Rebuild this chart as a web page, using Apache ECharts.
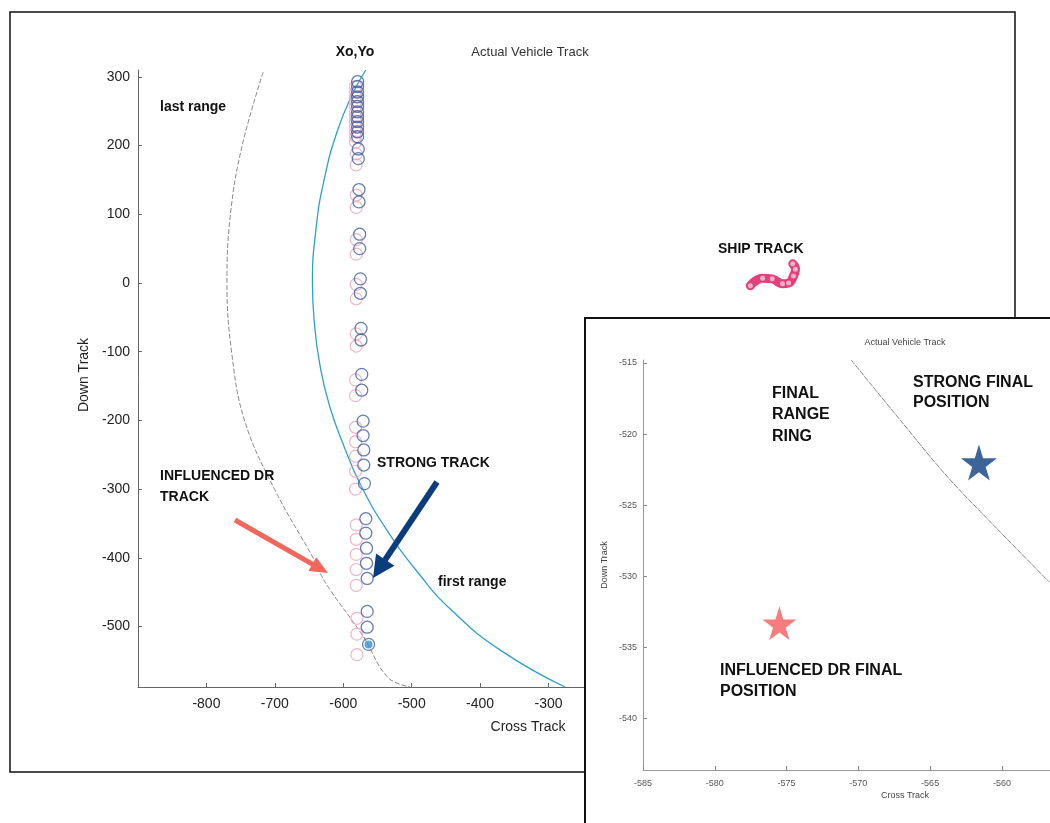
<!DOCTYPE html>
<html><head><meta charset="utf-8">
<script src="https://cdn.jsdelivr.net/npm/echarts@6/dist/echarts.min.js"></script>
<style>html,body{margin:0;padding:0;background:#fff}#c{width:1050px;height:823px}</style>
</head><body><div id="c"></div>
<script>
// ---------- DATA ----------
// Main plot
var strongTrack = [ // blue circles [cross, down]
  [-579,293],[-579,286],[-579,278],[-579,271],[-579,264],[-579,257],[-579,249],[-579,242],[-579,235],[-579,227],[-579,220],[-579,213],
  [-578,195],[-578,181],[-577,136],[-577,118],[-576,71],[-576,50],[-575,6],[-575,-15],[-574,-66],[-574,-83],[-573,-133],[-573,-156],
  [-571,-201],[-571,-222],[-570,-243],[-570,-265],[-569,-292],
  [-567,-343],[-567,-364],[-566,-386],[-566,-408],[-565,-430],
  [-565,-478],[-565,-501],[-563,-526]
];
var influencedTrack = [ // pink circles [cross, down]
  [-582,286],[-582,278],[-582,271],[-582,264],[-582,257],[-582,249],[-582,242],[-582,235],[-582,227],[-582,220],[-582,213],[-582,205],
  [-581,188],[-581,172],[-581,128],[-581,110],[-581,63],[-581,42],[-581,-2],[-581,-23],[-581,-74],[-581,-92],[-582,-141],[-582,-164],
  [-582,-210],[-582,-231],[-582,-252],[-582,-274],[-582,-300],
  [-581,-352],[-581,-373],[-581,-395],[-581,-417],[-581,-440],
  [-580,-488],[-580,-511],[-580,-541]
];
var strongFinalMain = [[-563,-526]];
var firstRange = [
  [-567,310],[-585,278],[-608,223],[-628,150],[-640,77],[-645,0],[-642,-60],[-634,-120],[-620,-179],
  [-598,-240],[-574,-295],[-536,-360],[-488,-425],[-442,-476],[-371,-534],[-276,-588]
];
var lastRange = [
  [-717,307],[-748,199],[-765,99],[-770,0],[-763,-102],[-744,-201],[-700,-301],[-643,-402],[-634,-422],
  [-619,-447],[-571,-514],[-535,-574],[-502,-588]
];
var shipTrack = [
  [-5,-4],[13,7],[27,6],[42,-1],[51,0],[58,10],[61,20],[57,28]
];
var mainXTicks = [-800,-700,-600,-500,-400,-300,-200,-100,0,100,200];
var mainYTicks = [-500,-400,-300,-200,-100,0,100,200,300];

// Inset
var insetRing = [[-570.5,-514.8],[-567.1,-519.0],[-563.8,-523.0],[-560.1,-526.9],[-556.7,-530.4]];
var strongFinal = [[-561.6,-522.0]];
var influencedFinal = [[-575.5,-533.3]];
var insetXTicks = [-585,-580,-575,-570,-565,-560];
var insetYTicks = [-540,-535,-530,-525,-520,-515];

// ---------- CHART ----------
var F = "'Liberation Sans', Arial, Helvetica, sans-serif";
var FN = "'Liberation Sans Narrow', 'Liberation Sans', Arial, sans-serif";
var star = 'path://M50,0 L61,35 L98,35 L68,57 L79,91 L50,70 L21,91 L32,57 L2,35 L39,35 Z';

function arrow(x1,y1,x2,y2,w,hl,hw,color){
  var dx=x2-x1, dy=y2-y1, L=Math.sqrt(dx*dx+dy*dy), ux=dx/L, uy=dy/L, nx=-uy, ny=ux;
  var bx=x2-hl*ux, by=y2-hl*uy;
  return [
    {type:'line', shape:{x1:x1,y1:y1,x2:bx+ux*2,y2:by+uy*2}, style:{stroke:color,lineWidth:w}, z:50},
    {type:'polygon', shape:{points:[[x2,y2],[bx+hw*nx,by+hw*ny],[bx-hw*nx,by-hw*ny]]}, style:{fill:color}, z:50}
  ];
}
function txt(x,y,s,size,bold,opts){
  var o = {type:'text', x:x, y:y, z:60, style:{text:s, fill:'#111', font:(bold?'bold ':'')+size+'px '+F, textAlign:'left', textVerticalAlign:'middle'}};
  if (opts){ for (var k in opts){ if(k==='style'){for(var j in opts.style) o.style[j]=opts.style[j];} else o[k]=opts[k]; } }
  return o;
}

var graphics = [
  {type:'rect', shape:{x:10,y:12,width:1005,height:760}, style:{fill:'none',stroke:'#111',lineWidth:1.5}, z:0},
  txt(355,52,'Xo,Yo',14,true,{style:{textAlign:'center'}}),
  txt(530,52,'Actual Vehicle Track',13,false,{style:{textAlign:'center',fill:'#333'}}),
  txt(160,107,'last range',14,true),
  txt(160,476,'INFLUENCED DR',14,true),
  txt(160,497,'TRACK',14,true),
  txt(377,463,'STRONG TRACK',14,true),
  txt(438,582,'first range',14,true),
  txt(718,249,'SHIP TRACK',14,true),
  txt(528,727,'Cross Track',14,false,{style:{textAlign:'center',fill:'#222'}}),
  txt(84,375,'Down Track',14,false,{rotation:Math.PI/2,style:{textAlign:'center',fill:'#222'}})
].concat(arrow(235,520,328,573,5,18,8,'#f0675c'))
 .concat(arrow(437,482,373,578,6,22,11,'#0b3d7e'))
 .concat([
  {type:'rect', zlevel:1, z:0, shape:{x:585,y:318,width:480,height:520}, style:{fill:'#fff',stroke:'#111',lineWidth:2}},
  txt(905,343,'Actual Vehicle Track',9,false,{zlevel:1,style:{textAlign:'center',fill:'#444'}}),
  txt(772,394,'FINAL',16,true,{zlevel:1}),
  txt(772,415,'RANGE',16,true,{zlevel:1}),
  txt(772,437,'RING',16,true,{zlevel:1}),
  txt(913,383,'STRONG FINAL',16,true,{zlevel:1}),
  txt(913,403,'POSITION',16,true,{zlevel:1}),
  txt(720,671,'INFLUENCED DR FINAL',16,true,{zlevel:1}),
  txt(720,692,'POSITION',16,true,{zlevel:1}),
  txt(905,796,'Cross Track',9,false,{zlevel:1,style:{textAlign:'center',fill:'#444'}}),
  txt(605,565,'Down Track',9,false,{zlevel:1,rotation:Math.PI/2,style:{textAlign:'center',fill:'#444'}})
]);

var axisCommon = {
  axisLine:{show:true,onZero:false,lineStyle:{color:'#666',width:1}},
  splitLine:{show:false}
};
var insetAxisCommon = {
  axisLine:{show:true,onZero:false,lineStyle:{color:'#999',width:1}},
  splitLine:{show:false}
};

var option = {
  animation:false,
  backgroundColor:'#fff',
  grid:[
    {left:138, right:91, top:70, bottom:136},
    {left:643, right:0, top:360, bottom:53, zlevel:1, z:1}
  ],
  xAxis:[
    Object.assign({type:'value', gridIndex:0, min:-900, max:300,
      axisTick:{show:true,inside:true,length:4,customValues:mainXTicks,lineStyle:{color:'#666'}},
      axisLabel:{customValues:mainXTicks,color:'#222',fontSize:14,fontFamily:F,margin:10}}, axisCommon),
    Object.assign({type:'value', gridIndex:1, min:-585, max:-556.65, zlevel:1, z:2,
      axisTick:{show:true,inside:true,length:4,customValues:insetXTicks,lineStyle:{color:'#888'}},
      axisLabel:{customValues:insetXTicks,color:'#555',fontSize:9,fontFamily:FN,margin:9}}, insetAxisCommon)
  ],
  yAxis:[
    Object.assign({type:'value', gridIndex:0, min:-588, max:310,
      axisTick:{show:true,inside:true,length:4,customValues:mainYTicks,lineStyle:{color:'#666'}},
      axisLabel:{customValues:mainYTicks,color:'#222',fontSize:14,fontFamily:F,margin:8}}, axisCommon),
    Object.assign({type:'value', gridIndex:1, min:-543.6, max:-514.8, zlevel:1, z:2,
      axisTick:{show:true,inside:true,length:4,customValues:insetYTicks,lineStyle:{color:'#888'}},
      axisLabel:{customValues:insetYTicks,color:'#555',fontSize:9,fontFamily:FN,margin:6}}, insetAxisCommon)
  ],
  graphic: graphics,
  series:[
    {type:'line', xAxisIndex:0, yAxisIndex:0, data:lastRange, smooth:0.4, symbol:'none',
      lineStyle:{color:'#8a8a8a',width:1,type:[5,2]}, z:2},
    {type:'line', xAxisIndex:0, yAxisIndex:0, data:firstRange, smooth:0.5, symbol:'none',
      lineStyle:{color:'#2f9fd3',width:1.3}, z:2},
    {type:'scatter', xAxisIndex:0, yAxisIndex:0, data:influencedTrack, symbol:'circle', symbolSize:12,
      itemStyle:{color:'rgba(0,0,0,0)',borderColor:'#eaa2bf',borderWidth:1.2}, z:3},
    {type:'scatter', xAxisIndex:0, yAxisIndex:0, data:strongTrack, symbol:'circle', symbolSize:12,
      itemStyle:{color:'rgba(0,0,0,0)',borderColor:'#3e5f9c',borderWidth:1.3}, z:4},
    {type:'scatter', xAxisIndex:0, yAxisIndex:0, data:strongFinalMain, symbol:'circle', symbolSize:8,
      itemStyle:{color:'#3b8fd0'}, z:5},
    {type:'line', xAxisIndex:0, yAxisIndex:0, data:shipTrack, smooth:0.5, symbol:'circle', symbolSize:5,
      itemStyle:{color:'#f2b0c8'}, lineStyle:{color:'#e4417a',width:9,cap:'round'}, z:3},
    {type:'line', xAxisIndex:1, yAxisIndex:1, data:insetRing, smooth:0.3, symbol:'none', zlevel:1, z:3,
      lineStyle:{color:'#888',width:1,type:[6,1]}},
    {type:'scatter', xAxisIndex:1, yAxisIndex:1, data:strongFinal, symbol:star, symbolSize:36, zlevel:1, z:4,
      itemStyle:{color:'#0b3d7e'}},
    {type:'scatter', xAxisIndex:1, yAxisIndex:1, data:influencedFinal, symbol:star, symbolSize:34, zlevel:1, z:4,
      itemStyle:{color:'#f25c5c'}}
  ]
};
var chart = echarts.init(document.getElementById('c'), null, {renderer:'canvas'});
chart.setOption(option);
</script></body></html>
